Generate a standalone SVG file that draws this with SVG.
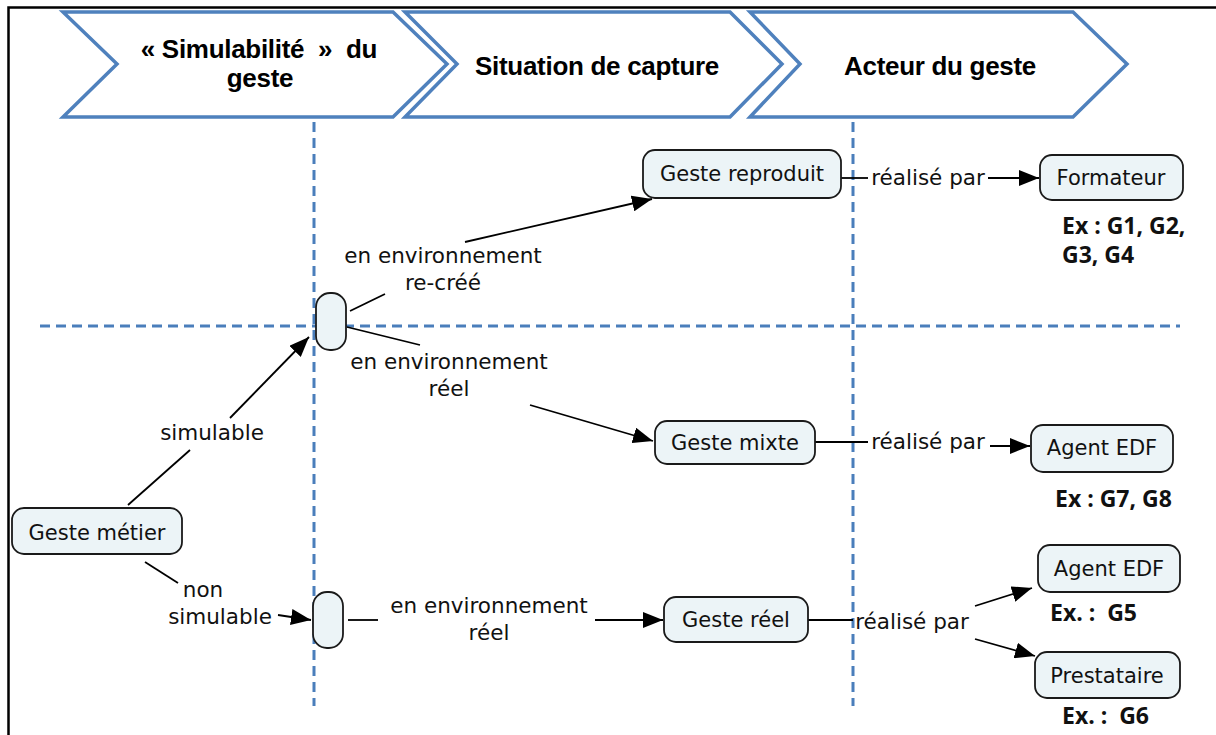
<svg xmlns="http://www.w3.org/2000/svg" width="1216" height="735" viewBox="0 0 1216 735">
<defs>
<marker id="ah" viewBox="0 0 20 16" refX="20" refY="8" markerWidth="20" markerHeight="16" markerUnits="userSpaceOnUse" orient="auto">
<path d="M0,0 L20,8 L0,16 Z" fill="#000"/>
</marker>
<style>
.hdr{fill:#fff;stroke:#4f81bd;stroke-width:3.5}
.ht{font-family:"Liberation Sans",Arial,sans-serif;font-weight:bold;font-size:26px;fill:#000;text-anchor:middle;letter-spacing:-0.3px}
.dash{stroke:#4a7ebb;stroke-width:3;stroke-dasharray:10,6;fill:none}
.node{fill:#ecf4f7;stroke:#1a1a1a;stroke-width:1.8}
.nt{font-family:"DejaVu Sans",Verdana,sans-serif;font-size:21px;fill:#111;text-anchor:middle}
.lt{font-family:"DejaVu Sans",Verdana,sans-serif;font-size:21.5px;fill:#111;text-anchor:middle}
.ex{font-family:"Open Sans","Liberation Sans",sans-serif;font-weight:bold;font-size:23px;fill:#111}
.ln{stroke:#000;stroke-width:1.8;fill:none}
.ar{stroke:#000;stroke-width:1.8;fill:none;marker-end:url(#ah)}
</style>
</defs>
<rect x="0" y="0" width="1216" height="735" fill="#fff"/>
<path d="M8.5,740 L8.5,7.5 L1220,7.5" fill="none" stroke="#000" stroke-width="2.5"/>

<g id="headers">
<path class="hdr" d="M63,12 L393,12 L447,64 L393,117 L63,117 L117,64 Z"/>
<path class="hdr" d="M405,12 L730,12 L782,64 L730,117 L405,117 L457,64 Z"/>
<path class="hdr" d="M750,12 L1073,12 L1127,64 L1073,117 L750,117 L800,64 Z"/>
<text class="ht" x="259" y="58" xml:space="preserve">« Simulabilité  »  du</text>
<text class="ht" x="260" y="87">geste</text>
<text class="ht" x="597" y="75">Situation de capture</text>
<text class="ht" x="940" y="75">Acteur du geste</text>
</g>

<g id="grid">
<line class="dash" x1="314" y1="122" x2="314" y2="706"/>
<line class="dash" x1="853" y1="122" x2="853" y2="706"/>
<line class="dash" x1="40" y1="326" x2="1180" y2="326"/>
</g>

<g id="connectors">
<line class="ln" x1="128" y1="505" x2="190" y2="450"/>
<text class="lt" x="212" y="440">simulable</text>
<line class="ar" x1="230" y1="418" x2="309" y2="337"/>

<line class="ln" x1="350" y1="311" x2="385" y2="294"/>
<text class="lt" x="443" y="263">en environnement</text>
<text class="lt" x="443" y="290">re-créé</text>
<line class="ar" x1="465" y1="242" x2="652" y2="199"/>

<line class="ln" x1="347" y1="327" x2="420" y2="345"/>
<text class="lt" x="449" y="369">en environnement</text>
<text class="lt" x="449" y="396">réel</text>
<line class="ar" x1="530" y1="405" x2="653" y2="441"/>

<line class="ln" x1="841" y1="178" x2="868" y2="178"/>
<text class="lt" x="928" y="185">réalisé par</text>
<line class="ar" x1="988" y1="178" x2="1039" y2="178"/>

<line class="ln" x1="815" y1="442" x2="868" y2="442"/>
<text class="lt" x="928" y="449">réalisé par</text>
<line class="ar" x1="990" y1="446" x2="1030" y2="446"/>

<line class="ln" x1="145" y1="562" x2="178" y2="583"/>
<text class="lt" x="203" y="597">non</text>
<text class="lt" x="220" y="624">simulable</text>
<line class="ar" x1="278" y1="615" x2="311" y2="620"/>

<line class="ln" x1="348" y1="620" x2="378" y2="620"/>
<text class="lt" x="489" y="613">en environnement</text>
<text class="lt" x="489" y="640">réel</text>
<line class="ar" x1="595" y1="620" x2="663" y2="620"/>

<line class="ln" x1="808" y1="620" x2="853" y2="620"/>
<text class="lt" x="912" y="629">réalisé par</text>
<line class="ar" x1="975" y1="606" x2="1032" y2="588"/>
<line class="ar" x1="975" y1="639" x2="1035" y2="656"/>
</g>

<g id="n-geste-metier">
<rect class="node" x="12" y="508" width="170" height="46" rx="12"/>
<text class="nt" x="97" y="540">Geste métier</text>
</g>
<g id="n-junction1">
<rect class="node" x="316" y="293" width="30" height="57" rx="14"/>
</g>
<g id="n-junction2">
<rect class="node" x="313" y="592" width="30" height="56" rx="14"/>
</g>
<g id="n-geste-reproduit">
<rect class="node" x="643" y="150" width="198" height="48" rx="12"/>
<text class="nt" x="742" y="181">Geste reproduit</text>
</g>
<g id="n-formateur">
<rect class="node" x="1040" y="155" width="143" height="45" rx="12"/>
<text class="nt" x="1111" y="185">Formateur</text>
<text class="ex" x="1062" y="234">Ex : G1, G2,</text>
<text class="ex" x="1062" y="263">G3, G4</text>
</g>
<g id="n-geste-mixte">
<rect class="node" x="655" y="421" width="160" height="43" rx="12"/>
<text class="nt" x="735" y="450">Geste mixte</text>
</g>
<g id="n-agent-edf-1">
<rect class="node" x="1031" y="425" width="142" height="47" rx="12"/>
<text class="nt" x="1102" y="455">Agent EDF</text>
<text class="ex" x="1055" y="507">Ex : G7, G8</text>
</g>
<g id="n-geste-reel">
<rect class="node" x="664" y="597" width="144" height="45" rx="12"/>
<text class="nt" x="736" y="627">Geste réel</text>
</g>
<g id="n-agent-edf-2">
<rect class="node" x="1038" y="545" width="142" height="47" rx="12"/>
<text class="nt" x="1109" y="576">Agent EDF</text>
<text class="ex" x="1050" y="621" xml:space="preserve">Ex. :  G5</text>
</g>
<g id="n-prestataire">
<rect class="node" x="1035" y="652" width="145" height="46" rx="12"/>
<text class="nt" x="1107" y="683">Prestataire</text>
<text class="ex" x="1062" y="724" xml:space="preserve">Ex. :  G6</text>
</g>
</svg>
